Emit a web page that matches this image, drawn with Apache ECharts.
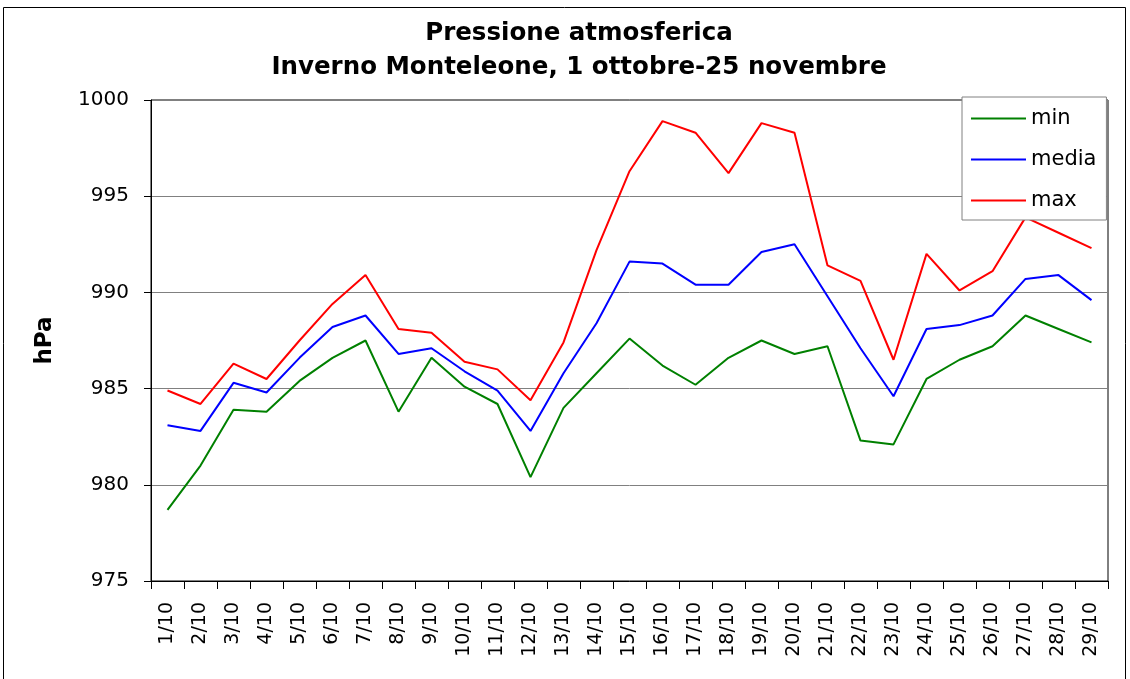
<!DOCTYPE html>
<html>
<head>
<meta charset="utf-8">
<script src="https://cdn.jsdelivr.net/npm/echarts@6/dist/echarts.min.js"></script>
<style>
  html, body { margin: 0; padding: 0; background: #fff; }
  #myChart { width: 1130px; height: 679px; }
</style>
</head>
<body>
<div id="myChart"></div>
<script>
// giorni (ottobre)
var giorni = ['1/10', '2/10', '3/10', '4/10', '5/10', '6/10', '7/10', '8/10', '9/10', '10/10',
  '11/10', '12/10', '13/10', '14/10', '15/10', '16/10', '17/10', '18/10', '19/10', '20/10',
  '21/10', '22/10', '23/10', '24/10', '25/10', '26/10', '27/10', '28/10', '29/10']

var minVals = [978.7, 981.0, 983.9, 983.8, 985.4, 986.6, 987.5, 983.8, 986.6, 985.1,
  984.2, 980.4, 984.0, 985.8, 987.6, 986.2, 985.2, 986.6, 987.5, 986.8,
  987.2, 982.3, 982.1, 985.5, 986.5, 987.2, 988.8, 988.1, 987.4]

var mediaVals = [983.1, 982.8, 985.3, 984.8, 986.6, 988.2, 988.8, 986.8, 987.1, 985.9,
  984.9, 982.8, 985.8, 988.4, 991.6, 991.5, 990.4, 990.4, 992.1, 992.5,
  989.8, 987.1, 984.6, 988.1, 988.3, 988.8, 990.7, 990.9, 989.6]

var maxVals = [984.9, 984.2, 986.3, 985.5, 987.5, 989.4, 990.9, 988.1, 987.9, 986.4,
  986.0, 984.4, 987.4, 992.2, 996.3, 998.9, 998.3, 996.2, 998.8, 998.3,
  991.4, 990.6, 986.5, 992.0, 990.1, 991.1, 993.9, 993.1, 992.3]

var yTicks = { min: 975, max: 1000, step: 5 }

var myChart = echarts.init(document.getElementById('myChart'))

var font = 'DejaVu Sans, sans-serif'

var option = {
  animation: false,
  backgroundColor: '#fff',
  title: {
    text: 'Pressione atmosferica\nInverno Monteleone, 1 ottobre-25 novembre',
    left: 574,
    textAlign: 'center',
    top: 12,
    textStyle: {
      fontFamily: font,
      fontSize: 24.5,
      fontWeight: 'bold',
      color: '#000',
      lineHeight: 33.5
    }
  },
  graphic: [
    {
      type: 'rect',
      shape: { x: 3.5, y: 7.5, width: 1122, height: 680 },
      style: { fill: 'none', stroke: '#000', lineWidth: 1 },
      silent: true
    }
  ],
  legend: {
    orient: 'vertical',
    left: 962,
    top: 97,
    padding: [11, 10, 9, 9],
    itemWidth: 55,
    itemHeight: 2,
    itemGap: 20,
    itemTextGap: 6,
    icon: 'rect',
    backgroundColor: '#fff',
    borderColor: '#808080',
    borderWidth: 1,
    textStyle: { fontFamily: font, fontSize: 21, color: '#000', lineHeight: 20 },
    data: ['min', 'media', 'max']
  },
  grid: {
    left: 151,
    right: 22,
    top: 100,
    bottom: 98,
    show: true,
    borderColor: '#000',
    borderWidth: 1,
    backgroundColor: 'transparent'
  },
  xAxis: {
    type: 'category',
    data: giorni,
    boundaryGap: true,
    axisLine: { lineStyle: { color: '#000', width: 1 } },
    axisTick: { show: true, length: 8, lineStyle: { color: '#000' } },
    axisLabel: {
      rotate: 90,
      interval: 0,
      margin: 21,
      fontFamily: font,
      fontSize: 19,
      color: '#000'
    },
    splitLine: { show: false }
  },
  yAxis: {
    type: 'value',
    min: yTicks.min,
    max: yTicks.max,
    interval: yTicks.step,
    name: 'hPa',
    nameLocation: 'middle',
    nameRotate: 90,
    nameGap: 94,
    nameTextStyle: { fontFamily: font, fontSize: 23, fontWeight: 'bold', color: '#000' },
    axisLine: { show: true, lineStyle: { color: '#000', width: 1 } },
    axisTick: { show: true, length: 7, lineStyle: { color: '#000' } },
    axisLabel: {
      fontFamily: font,
      fontSize: 20,
      color: '#000',
      margin: 22,
      formatter: function (v) { return String(v) }
    },
    splitLine: { show: true, lineStyle: { color: '#808080', width: 1 } }
  },
  series: [
    {
      name: 'min',
      type: 'line',
      data: minVals,
      symbol: 'none',
      color: '#008000',
      lineStyle: { color: '#008000', width: 2 }
    },
    {
      name: 'media',
      type: 'line',
      data: mediaVals,
      symbol: 'none',
      color: '#0000ff',
      lineStyle: { color: '#0000ff', width: 2 }
    },
    {
      name: 'max',
      type: 'line',
      data: maxVals,
      symbol: 'none',
      color: '#ff0000',
      lineStyle: { color: '#ff0000', width: 2 }
    }
  ]
}

myChart.setOption(option)
window.onresize = myChart.resize
</script>
</body>
</html>
